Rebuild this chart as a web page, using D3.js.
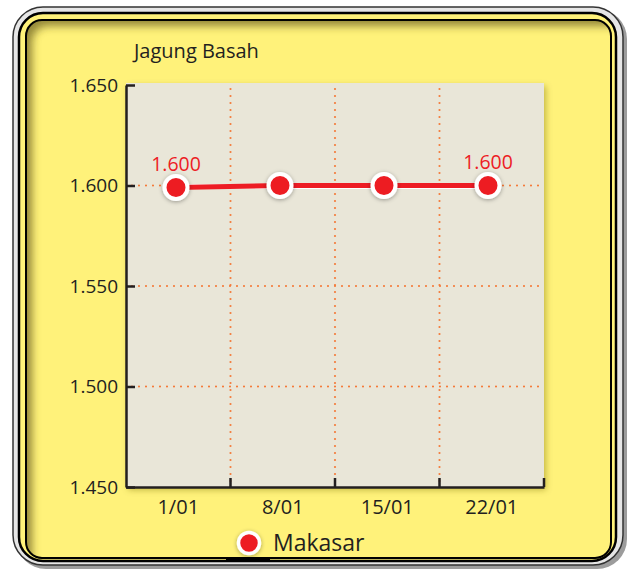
<!DOCTYPE html>
<html>
<head>
<meta charset="utf-8">
<script src="https://cdn.jsdelivr.net/npm/d3@7"></script>
<style>
  body { margin: 0; background: #fff; }
  text { font-family: "Open Sans", "Noto Sans", sans-serif; fill: #231f20; }
</style>
</head>
<body>
<div id="chart"></div>
<script>
// data
const dates = ["1/01", "8/01", "15/01", "22/01"];
const makasar = [1.599, 1.600, 1.600, 1.600];
const yTicks = [1.45, 1.5, 1.55, 1.6, 1.65];
const labelled = ["1/01", "22/01"];
const title = "Jagung Basah";
const seriesName = "Makasar";

const width = 628, height = 569;
const margin = { top: 85, right: 84, bottom: 82, left: 126 };

const svg = d3.select("#chart").append("svg")
    .attr("width", width)
    .attr("height", height);

const defs = svg.append("defs");

const plotShadow = defs.append("filter").attr("id", "plotShadow")
    .attr("x", "-10%").attr("y", "-10%").attr("width", "130%").attr("height", "130%");
plotShadow.append("feDropShadow").attr("dx", 2).attr("dy", 3).attr("stdDeviation", 3)
    .attr("flood-color", "#7a6f10").attr("flood-opacity", 0.45);

const dotShadow = defs.append("filter").attr("id", "dotShadow")
    .attr("x", "-50%").attr("y", "-50%").attr("width", "200%").attr("height", "200%");
dotShadow.append("feDropShadow").attr("dx", 0).attr("dy", 1).attr("stdDeviation", 2)
    .attr("flood-color", "#000").attr("flood-opacity", 0.35);

const blur = defs.append("filter").attr("id", "innerBlur")
    .attr("x", "-10%").attr("y", "-10%").attr("width", "120%").attr("height", "120%");
blur.append("feGaussianBlur").attr("stdDeviation", 4);

// frame
const inner = { x: 26, y: 20, w: 585, h: 538, r: 16 };

svg.append("rect")
    .attr("x", 16).attr("y", 9).attr("width", 611).attr("height", 560).attr("rx", 30)
    .attr("fill", "#9c9c9c");
svg.append("rect")
    .attr("x", 13).attr("y", 7).attr("width", 610).attr("height", 558).attr("rx", 30)
    .attr("fill", "#e6e6e6").attr("stroke", "#333").attr("stroke-width", 1.5);
svg.append("rect")
    .attr("x", 19).attr("y", 13).attr("width", 597).attr("height", 548).attr("rx", 24)
    .attr("fill", "#fff27a").attr("stroke", "#000").attr("stroke-width", 2.5);

defs.append("clipPath").attr("id", "innerClip")
    .append("rect")
    .attr("x", inner.x).attr("y", inner.y).attr("width", inner.w).attr("height", inner.h).attr("rx", inner.r);

svg.append("rect")
    .attr("x", inner.x).attr("y", inner.y).attr("width", inner.w).attr("height", inner.h).attr("rx", inner.r)
    .attr("fill", "#fff27a");

// inner shadow along top and left
svg.append("g").attr("clip-path", "url(#innerClip)")
    .append("path")
    .attr("fill-rule", "evenodd")
    .attr("fill", "#6e6420")
    .attr("opacity", 0.75)
    .attr("filter", "url(#innerBlur)")
    .attr("d", `M0,0H${width}V${height}H0Z
      M${inner.x + 6 + inner.r},${inner.y + 6}
      H${inner.x + inner.w + 20}V${inner.y + inner.h + 20}H${inner.x + 6}
      V${inner.y + 6 + inner.r}A${inner.r},${inner.r} 0 0 1 ${inner.x + 6 + inner.r},${inner.y + 6}Z`);

svg.append("rect")
    .attr("x", inner.x).attr("y", inner.y).attr("width", inner.w).attr("height", inner.h).attr("rx", inner.r)
    .attr("fill", "none").attr("stroke", "#000").attr("stroke-width", 2);

// scales
const x = d3.scaleBand()
    .domain(dates)
    .range([margin.left, width - margin.right]);

const xPoint = d3.scalePoint()
    .domain(dates)
    .range([176, 488]);

const y = d3.scaleLinear()
    .domain([1.45, 1.65])
    .range([height - margin.bottom, margin.top]);

const fmt = v => d3.format(".3f")(v);

// plot background
svg.append("rect")
    .attr("x", margin.left).attr("y", y(1.65) - 2)
    .attr("width", x.range()[1] - margin.left)
    .attr("height", y(1.45) - y(1.65) + 2)
    .attr("fill", "#e9e6d8")
    .attr("filter", "url(#plotShadow)");

// grid
const grid = svg.append("g")
    .attr("stroke", "#f47b3a")
    .attr("stroke-width", 2.2)
    .attr("stroke-linecap", "round")
    .attr("stroke-dasharray", "0,7");

grid.selectAll("line.h")
    .data(yTicks.filter(t => t > 1.45 && t < 1.65))
    .join("line")
    .attr("class", "h")
    .attr("x1", margin.left + 6).attr("x2", x.range()[1])
    .attr("y1", d => y(d)).attr("y2", d => y(d));

grid.selectAll("line.v")
    .data(dates.slice(1))
    .join("line")
    .attr("class", "v")
    .attr("x1", d => x(d)).attr("x2", d => x(d))
    .attr("y1", y(1.65) + 4).attr("y2", y(1.45));

// y axis
const yAxis = d3.axisLeft(y)
    .tickValues(yTicks)
    .tickFormat(fmt)
    .tickSizeInner(-9)
    .tickSizeOuter(0)
    .tickPadding(8);

const gy = svg.append("g")
    .attr("transform", `translate(${margin.left},0)`)
    .call(yAxis);
gy.select(".domain").attr("stroke", "#231f20").attr("stroke-width", 2.5);
gy.selectAll(".tick line").attr("stroke", "#231f20").attr("stroke-width", 2.5);
gy.selectAll(".tick text").attr("font-size", 19).attr("fill", "#231f20")
    .attr("font-family", "'Open Sans', sans-serif");

// x axis
const xAxis = d3.axisBottom(x)
    .tickSize(0)
    .tickPadding(13);

const gx = svg.append("g")
    .attr("transform", `translate(0,${y(1.45)})`)
    .call(xAxis);
gx.select(".domain").attr("stroke", "#231f20").attr("stroke-width", 2.5);
gx.selectAll(".tick text").attr("font-size", 20).attr("fill", "#231f20")
    .attr("font-family", "'Open Sans', sans-serif");

const boundaries = dates.slice(1).map(d => x(d)).concat([x.range()[1]]);
gx.selectAll("line.bound")
    .data(boundaries)
    .join("line")
    .attr("class", "bound")
    .attr("x1", d => d).attr("x2", d => d)
    .attr("y1", 0).attr("y2", -9)
    .attr("stroke", "#231f20").attr("stroke-width", 2.5);

// title
svg.append("text")
    .attr("x", 134).attr("y", 58)
    .attr("font-size", 20)
    .text(title);

// line
const series = dates.map((d, i) => ({ date: d, value: makasar[i] }));
const line = d3.line()
    .x(d => xPoint(d.date))
    .y(d => y(d.value));

svg.append("path")
    .datum(series)
    .attr("d", line)
    .attr("fill", "none")
    .attr("stroke", "#fff")
    .attr("stroke-width", 13)
    .attr("filter", "url(#dotShadow)");

svg.append("path")
    .datum(series)
    .attr("d", line)
    .attr("fill", "none")
    .attr("stroke", "#ed1c24")
    .attr("stroke-width", 5);

svg.selectAll("circle.pt")
    .data(series)
    .join("circle")
    .attr("class", "pt")
    .attr("cx", d => xPoint(d.date))
    .attr("cy", d => y(d.value))
    .attr("r", 11.5)
    .attr("fill", "#ed1c24")
    .attr("stroke", "#fff")
    .attr("stroke-width", 4)
    .attr("filter", "url(#dotShadow)");

svg.selectAll("text.val")
    .data(series.filter(d => labelled.includes(d.date)))
    .join("text")
    .attr("class", "val")
    .attr("x", d => xPoint(d.date))
    .attr("y", d => y(d.value) - 17)
    .attr("text-anchor", "middle")
    .attr("font-size", 19.5)
    .style("fill", "#ed1c24")
    .text(d => fmt(Math.round(d.value * 100) / 100));

// legend
const legend = svg.append("g").attr("transform", "translate(249,543)");
legend.append("circle")
    .attr("r", 10.5)
    .attr("fill", "#ed1c24")
    .attr("stroke", "#fff")
    .attr("stroke-width", 3.5)
    .attr("filter", "url(#dotShadow)");
legend.append("text")
    .attr("x", 24).attr("y", 8)
    .attr("font-size", 23)
    .text(seriesName);

svg.append("line")
    .attr("x1", 226).attr("x2", 270)
    .attr("y1", 558.5).attr("y2", 558.5)
    .attr("stroke", "#000").attr("stroke-width", 3);
</script>
</body>
</html>
